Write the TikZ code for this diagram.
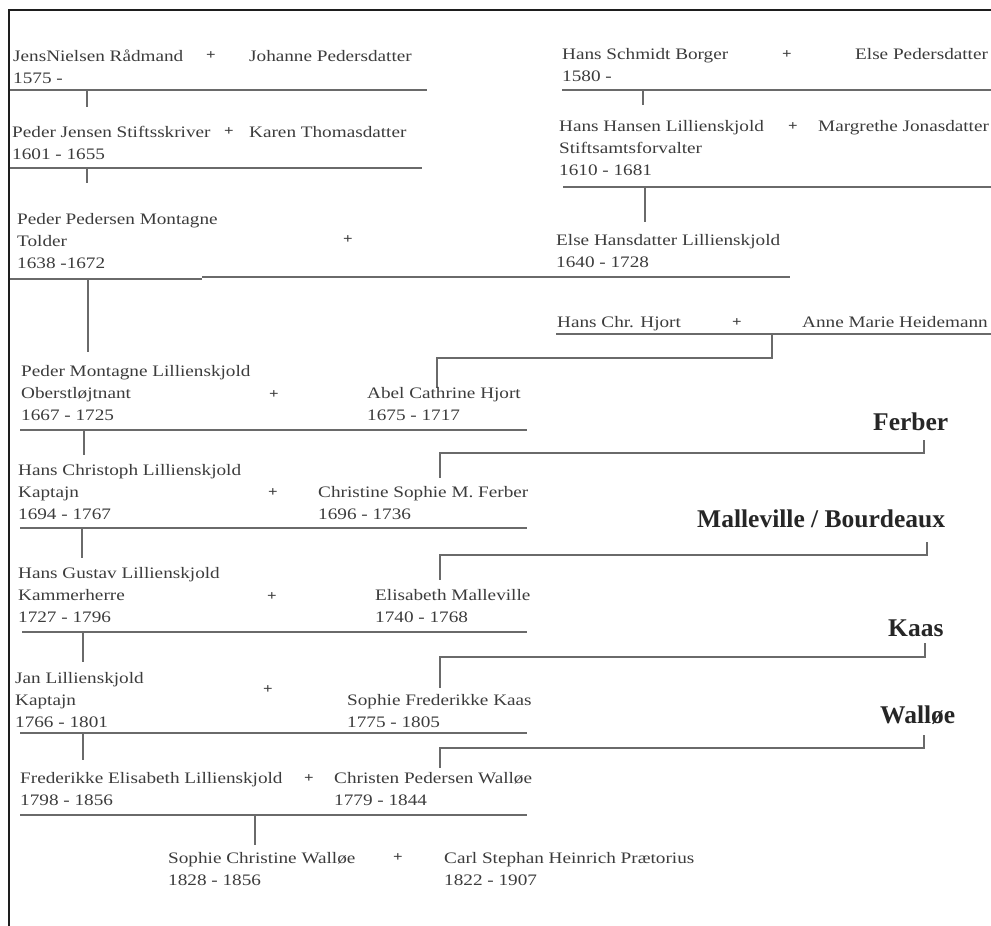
\documentclass[tikz,border=0pt]{standalone}
\usepackage{fontspec}
\setmainfont[FakeStretch=1.2]{Liberation Serif}
\newfontfamily\labfont{Liberation Serif}
\definecolor{txt}{HTML}{3C3C3C}
\definecolor{lin}{HTML}{6A6A6A}
\definecolor{lab}{HTML}{262626}
\definecolor{frm}{HTML}{1E1E1E}
\begin{document}
\begin{tikzpicture}[x=1pt,y=-1pt,
  person/.style={anchor=north west,yshift=15.4pt,inner sep=0pt,align=left,text=txt,font=\fontsize{16}{22}\selectfont},
  pl/.style={inner sep=0pt,text=txt,font=\bfseries\fontsize{14}{14}\selectfont},
  fam/.style={anchor=base west,inner sep=0pt,text=lab,font=\labfont\bfseries\fontsize{25.5}{25.5}\selectfont},
  ln/.style={draw=lin,line width=1.5pt},
  frame/.style={draw=frm,line width=2.8pt}]
\useasboundingbox (0,0) rectangle (991,926);
\fill[white] (0,0) rectangle (991,926);
% frame
\draw[frame] (9,926) -- (9,10) -- (991,10);

% ---- generation 1 left
\node[person] (p1) at (13,61) {\strut JensNielsen Rådmand\\1575 -};
\node[pl] (m1) at (211,56) {+};
\node[person] (w1) at (249,61) {\strut Johanne Pedersdatter};
\draw[ln] (10,90) -- (427,90);
\draw[ln] (87,90) -- (87,107);

\node[person] (p2) at (12,137) {\strut Peder Jensen Stiftsskriver\\1601 - 1655};
\node[pl] (m2) at (229,132) {+};
\node[person] (w2) at (249,137) {\strut Karen Thomasdatter};
\draw[ln] (10,168) -- (422,168);
\draw[ln] (87,168) -- (87,183);

% ---- right top
\node[person] (r1) at (562,59) {\strut Hans Schmidt Borger\\1580 -};
\node[pl] (m3) at (787,55) {+};
\node[person] (rw1) at (855,59) {\strut Else Pedersdatter};
\draw[ln] (562,90) -- (991,90);
\draw[ln] (643,90) -- (643,105);

\node[person] (r2) at (559,131) {\strut Hans Hansen Lillienskjold\\Stiftsamtsforvalter\\1610 - 1681};
\node[pl] (m4) at (793,127) {+};
\node[person] (rw2) at (818,131) {\strut Margrethe Jonasdatter};
\draw[ln] (563,187) -- (991,187);
\draw[ln] (645,187) -- (645,222);

% ---- generation 3
\node[person] (p3) at (17,224) {\strut Peder Pedersen Montagne\\Tolder\\1638 -1672};
\node[pl] (m5) at (348,240) {+};
\node[person] (w3) at (556,245) {\strut Else Hansdatter Lillienskjold\\1640 - 1728};
\draw[ln] (10,279) -- (202,279);
\draw[ln] (202,277) -- (790,277);
\draw[ln] (88,278) -- (88,352);

% ---- Hjort
\node[person] (h1) at (557,327) {\strut Hans Chr. Hjort};
\node[pl] (m6) at (737,323) {+};
\node[person] (h2) at (802,327) {\strut Anne Marie Heidemann};
\draw[ln] (556,334) -- (991,334);
\draw[ln] (772,334) -- (772,358) -- (437,358) -- (437,388);

% ---- generation 4
\node[person] (p4) at (21,376) {\strut Peder Montagne Lillienskjold\\Oberstløjtnant\\1667 - 1725};
\node[pl] (m7) at (274,395) {+};
\node[person] (w4) at (367,398) {\strut Abel Cathrine Hjort\\1675 - 1717};
\draw[ln] (20,430) -- (527,430);
\draw[ln] (84,430) -- (84,455);

\node[fam] (f1) at (873,430) {Ferber};
\draw[ln] (924,440) -- (924,453) -- (440,453) -- (440,478);

% ---- generation 5
\node[person] (p5) at (18,475) {\strut Hans Christoph Lillienskjold\\Kaptajn\\1694 - 1767};
\node[pl] (m8) at (273,493) {+};
\node[person] (w5) at (318,497) {\strut Christine Sophie M. Ferber\\1696 - 1736};
\draw[ln] (20,528) -- (527,528);
\draw[ln] (82,528) -- (82,558);

\node[fam] (f2) at (697,527) {Malleville / Bourdeaux};
\draw[ln] (927,542) -- (927,555) -- (440,555) -- (440,580);

% ---- generation 6
\node[person] (p6) at (18,578) {\strut Hans Gustav Lillienskjold\\Kammerherre\\1727 - 1796};
\node[pl] (m9) at (272,597) {+};
\node[person] (w6) at (375,600) {\strut Elisabeth Malleville\\1740 - 1768};
\draw[ln] (22,632) -- (527,632);
\draw[ln] (83,632) -- (83,662);

\node[fam] (f3) at (888,636) {Kaas};
\draw[ln] (925,643) -- (925,657) -- (440,657) -- (440,688);

% ---- generation 7
\node[person] (p7) at (15,683) {\strut Jan Lillienskjold\\Kaptajn\\1766 - 1801};
\node[pl] (m10) at (268,690) {+};
\node[person] (w7) at (347,705) {\strut Sophie Frederikke Kaas\\1775 - 1805};
\draw[ln] (20,733) -- (527,733);
\draw[ln] (83,733) -- (83,760);

\node[fam] (f4) at (880,723) {Walløe};
\draw[ln] (924,735) -- (924,748) -- (440,748) -- (440,768);

% ---- generation 8
\node[person] (p8) at (20,783) {\strut Frederikke Elisabeth Lillienskjold\\1798 - 1856};
\node[pl] (m11) at (309,779) {+};
\node[person] (w8) at (334,783) {\strut Christen Pedersen Walløe\\1779 - 1844};
\draw[ln] (20,815) -- (527,815);
\draw[ln] (255,815) -- (255,845);

% ---- generation 9
\node[person] (p9) at (168,863) {\strut Sophie Christine Walløe\\1828 - 1856};
\node[pl] (m12) at (398,858) {+};
\node[person] (w9) at (444,863) {\strut Carl Stephan Heinrich Prætorius\\1822 - 1907};
\end{tikzpicture}
\end{document}
